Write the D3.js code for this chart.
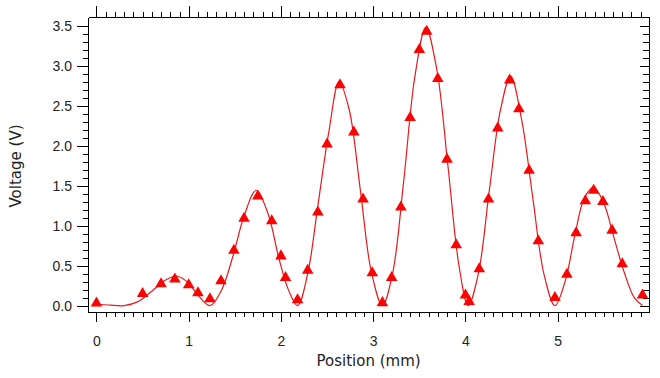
<!DOCTYPE html>
<html>

<head>
    <meta charset="utf-8">
    <style>
        body {
            margin: 0;
            background: white;
        }

        svg {
            display: block;
            font-family: 'DejaVu Sans', sans-serif;
        }

        .axis text {
            font-size: 14px;
            fill: #222;
        }

        .axis path,
        .axis line {
            stroke: #000;
            shape-rendering: crispEdges;
        }

        .title {
            font-size: 15px;
            fill: #222;
        }
    </style>
</head>

<body>
    <svg width="660" height="378"></svg>
</body>

<script src="https://d3js.org/d3.v7.min.js"></script>

<script>
    // measured points (triangles)
    let positions = [0, 0.50, 0.70, 0.85, 1.00, 1.10, 1.23, 1.35, 1.49, 1.60, 1.75, 1.90, 2.00, 2.05,
        2.18, 2.29, 2.40, 2.50, 2.64, 2.79, 2.89, 2.99, 3.10, 3.20, 3.30, 3.40, 3.50, 3.58, 3.70,
        3.80, 3.90, 4.00, 4.04, 4.15, 4.25, 4.35, 4.48, 4.58, 4.69, 4.79, 4.97, 5.10, 5.20, 5.30,
        5.39, 5.49, 5.59, 5.70, 5.92]
    let voltages = [0.03, 0.15, 0.27, 0.33, 0.26, 0.16, 0.085, 0.31, 0.69, 1.09, 1.37, 1.06, 0.62, 0.35,
        0.07, 0.44, 1.17, 2.02, 2.76, 2.17, 1.33, 0.41, 0.035, 0.35, 1.23, 2.35, 3.20, 3.43, 2.84,
        1.83, 0.76, 0.13, 0.05, 0.46, 1.33, 2.22, 2.82, 2.46, 1.69, 0.81, 0.10, 0.39, 0.91, 1.31,
        1.44, 1.30, 0.94, 0.52, 0.13]

    // fitted line
    let fitX = [0, 0.15, 0.30, 0.45, 0.60, 0.75, 0.87, 1.00, 1.10, 1.23, 1.35, 1.48, 1.60, 1.73,
        1.86, 1.98, 2.08, 2.18, 2.29, 2.40, 2.52, 2.63, 2.74, 2.86, 2.98, 3.10, 3.21, 3.33, 3.45,
        3.57, 3.69, 3.81, 3.93, 4.03, 4.14, 4.26, 4.38, 4.49, 4.61, 4.73, 4.85, 4.97, 5.08, 5.19,
        5.29, 5.39, 5.50, 5.61, 5.72, 5.83, 5.92]
    let fitY = [0.02, 0.005, 0, 0.05, 0.18, 0.32, 0.37, 0.28, 0.13, 0, 0.18, 0.62, 1.12, 1.44,
        1.15, 0.58, 0.2, 0, 0.40, 1.25, 2.18, 2.80, 2.45, 1.45, 0.42, 0, 0.40, 1.55, 2.85,
        3.48, 2.95, 1.75, 0.5, 0, 0.40, 1.45, 2.45, 2.87, 2.32, 1.35, 0.40, 0, 0.30, 0.90,
        1.35, 1.48, 1.28, 0.85, 0.42, 0.1, 0]

    let xTicks = [0, 1, 2, 3, 4, 5]
    let yTicks = [0, 0.5, 1, 1.5, 2, 2.5, 3, 3.5]

    let svg = d3.select("svg")

    let plotLeft = 88, plotRight = 649, plotTop = 17, plotBottom = 312

    let x = d3.scaleLinear()
        .domain([-0.092, 5.99])
        .range([plotLeft, plotRight])
    let y = d3.scaleLinear()
        .domain([-0.08, 3.61])
        .range([plotBottom, plotTop])

    let xMinor = d3.range(0, 60).map(d => d / 10).filter(d => d <= 5.98)
    let yMinor = d3.range(0, 36).map(d => d / 10)

    // bottom axis
    svg.append("g")
        .attr("class", "axis")
        .attr("transform", `translate(0,${plotBottom})`)
        .call(d3.axisBottom(x).tickValues(xMinor).tickSize(5).tickSizeOuter(0).tickFormat(""))
    svg.append("g")
        .attr("class", "axis")
        .attr("transform", `translate(0,${plotBottom})`)
        .call(d3.axisBottom(x).tickValues(xTicks).tickSize(10).tickSizeOuter(0).tickPadding(14).tickFormat(d3.format("d")))
        .call(g => g.select(".domain").remove())

    // top axis, ticks out
    svg.append("g")
        .attr("class", "axis")
        .attr("transform", `translate(0,${plotTop})`)
        .call(d3.axisTop(x).tickValues(xMinor).tickSize(5).tickSizeOuter(0).tickFormat(""))
    svg.append("g")
        .attr("class", "axis")
        .attr("transform", `translate(0,${plotTop})`)
        .call(d3.axisTop(x).tickValues(xTicks).tickSize(11).tickSizeOuter(0).tickFormat(""))
        .call(g => g.select(".domain").remove())

    // left axis
    svg.append("g")
        .attr("class", "axis")
        .attr("transform", `translate(${plotLeft},0)`)
        .call(d3.axisLeft(y).tickValues(yMinor).tickSize(5).tickSizeOuter(0).tickFormat(""))
    svg.append("g")
        .attr("class", "axis")
        .attr("transform", `translate(${plotLeft},0)`)
        .call(d3.axisLeft(y).tickValues(yTicks).tickSize(11).tickSizeOuter(0).tickPadding(5).tickFormat(d3.format(".1f")))
        .call(g => g.select(".domain").remove())

    // right axis, ticks pointing in
    svg.append("g")
        .attr("class", "axis")
        .attr("transform", `translate(${plotRight},0)`)
        .call(d3.axisLeft(y).tickValues(yMinor).tickSize(6).tickSizeOuter(0).tickFormat(""))
    svg.append("g")
        .attr("class", "axis")
        .attr("transform", `translate(${plotRight},0)`)
        .call(d3.axisLeft(y).tickValues(yTicks).tickSize(9).tickSizeOuter(0).tickFormat(""))
        .call(g => g.select(".domain").remove())

    // fit line
    let line = d3.line()
        .x((d, i) => x(fitX[i]))
        .y(d => y(d))
        .curve(d3.curveCatmullRom.alpha(0.5))

    svg.append("path")
        .datum(fitY)
        .attr("d", line)
        .attr("fill", "none")
        .attr("stroke", "#e8191e")
        .attr("stroke-width", 1.2)

    // triangles
    let tri = d3.symbol().type(d3.symbolTriangle).size(58)
    svg.append("g")
        .selectAll("path")
        .data(voltages)
        .join("path")
        .attr("d", tri)
        .attr("transform", (d, i) => `translate(${x(positions[i])},${y(d)})`)
        .attr("fill", "#ff0000")

    // titles
    svg.append("text")
        .attr("class", "title")
        .attr("x", x(2.95))
        .attr("y", 366)
        .attr("text-anchor", "middle")
        .text("Position (mm)")

    svg.append("text")
        .attr("class", "title")
        .attr("transform", "translate(21,166) rotate(-90)")
        .attr("text-anchor", "middle")
        .text("Voltage (V)")
</script>

</html>
